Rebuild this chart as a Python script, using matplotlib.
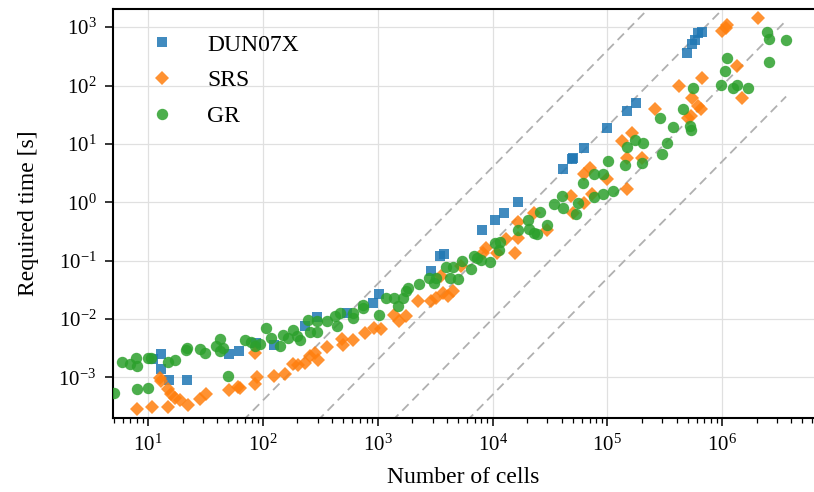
import numpy as np
import matplotlib
matplotlib.use("Agg")
import matplotlib.pyplot as plt
from matplotlib.ticker import LogLocator, NullLocator, NullFormatter

plt.rcParams['font.family'] = ['Liberation Serif', 'DejaVu Serif']
plt.rcParams['mathtext.fontset'] = 'custom'
plt.rcParams['mathtext.rm'] = 'Liberation Serif'
plt.rcParams['mathtext.it'] = 'Liberation Serif:italic'
plt.rcParams['mathtext.bf'] = 'Liberation Serif:bold'

# ---- data ----
dun_cells = [11.1, 13.0, 13.0, 15.2, 21.9, 50.8, 62, 87, 125, 232, 295, 540, 908, 1020,
             2900, 3470, 3800, 8050, 1.06e4, 1.27e4, 1.68e4, 4.07e4, 4.9e4, 5.0e4, 6.3e4,
             1.0e5, 1.49e5, 1.79e5, 4.97e5, 5.5e5, 5.8e5, 6.2e5, 6.7e5]
dun_time = [2.06e-3, 2.5e-3, 1.39e-3, 8.9e-4, 8.9e-4, 2.5e-3, 2.8e-3, 3.9e-3, 3.6e-3, 7.6e-3,
            1.08e-2, 1.27e-2, 1.88e-2, 2.7e-2, 6.7e-2, 0.122, 0.132, 0.33, 0.49, 0.65, 1.0,
            3.7, 5.5, 5.7, 8.4, 18.8, 36.8, 50.5, 368, 525, 615, 780, 811]

srs_cells = [8.0, 10.8, 12.7, 13.0, 14.9, 14.9, 15.9, 17.2, 19.0, 22.3, 28.4, 32, 50.8, 60.8,
             63.3, 85.5, 89, 85.5, 125, 156, 182, 202, 232, 257, 284, 301, 361, 488, 498, 608,
             774, 927, 1060, 1380, 1520, 1750, 2230, 2900, 3200, 3680, 4070, 4500, 3540, 5300,
             8700, 8200, 1.1e4, 1.3e4, 1.56e4, 1.68e4, 1.65e4, 2.28e4, 3.0e4, 4.8e4, 5.0e4,
             6.2e4, 7.4e4, 6.2e4, 7.1e4, 1.0e5, 1.49e5, 1.35e5, 1.65e5, 1.49e5, 2.02e5, 2.6e5,
             4.2e5, 6.7e5, 5.5e5, 6.1e5, 6.5e5, 5.0e5, 5.3e5, 1.0e6, 1.1e6, 1.07e6, 1.35e6,
             1.49e6, 2.06e6]
srs_time = [2.9e-4, 3.06e-4, 9.6e-4, 8.5e-4, 3.06e-4, 6.2e-4, 5.1e-4, 4.4e-4, 4.0e-4, 3.4e-4,
            4.2e-4, 5.1e-4, 6.0e-4, 6.7e-4, 6.5e-4, 7.6e-4, 1.0e-3, 2.6e-3, 1.04e-3, 1.12e-3,
            1.67e-3, 1.6e-3, 1.74e-3, 2.3e-3, 2.6e-3, 2.0e-3, 3.3e-3, 4.5e-3, 3.6e-3, 4.4e-3,
            5.75e-3, 7.0e-3, 6.7e-3, 1.17e-2, 9.1e-3, 1.12e-2, 2.04e-2, 2.04e-2, 2.3e-2, 2.8e-2,
            2.5e-2, 3.0e-2, 5.5e-2, 8.2e-2, 0.167, 0.137, 0.137, 0.23, 0.137, 0.24, 0.45, 0.65,
            0.33, 1.27, 0.65, 0.96, 1.37, 3.1, 3.8, 2.5, 1.67, 11.2, 15.4, 5.75, 5.75, 40,
            97, 137, 60, 45, 40, 28, 30.5, 853, 1080, 960, 212, 62, 1430]

gr_cells = [5.0, 5.9, 7.0, 7.9, 8.0, 8.0, 10, 10.5, 10, 15, 17.2, 21.4, 21.9, 28.4, 31.4, 39,
            42.4, 45, 42.4, 49.8, 70, 79, 85.5, 94.6, 107, 117, 141, 149, 165, 182, 198, 210,
            247, 257, 295, 295, 361, 424, 441, 469, 608, 608, 743, 750, 1020, 1170, 1380, 1490,
            1650, 1750, 1820, 2280, 2780, 3070, 3200, 3900, 4300, 4500, 5000, 5400, 6500, 6900,
            7300, 7900, 9500, 1.04e4, 1.13e4, 1.17e4, 1.65e4, 2.02e4, 2.06e4, 2.28e4, 2.42e4,
            2.57e4, 2.95e4, 3.4e4, 4.0e4, 4.07e4, 5.3e4, 5.5e4, 6.1e4, 7.6e4, 7.7e4, 9.1e4,
            9.1e4, 1.02e5, 1.13e5, 1.43e5, 1.49e5, 1.75e5, 2.06e5, 2.02e5, 3.0e5, 3.3e5, 2.9e5,
            3.76e5, 4.6e5, 5.2e5, 5.4e5, 5.6e5, 9.8e5, 1.06e6, 1.1e6, 1.25e6, 1.35e6, 1.68e6,
            2.47e6, 2.57e6, 3.6e6, 2.57e6]
gr_time = [5.3e-4, 1.8e-3, 1.7e-3, 2.1e-3, 1.56e-3, 6.2e-4, 2.1e-3, 2.1e-3, 6.5e-4, 1.8e-3,
           2.0e-3, 2.9e-3, 3.2e-3, 3.1e-3, 2.6e-3, 3.4e-3, 4.5e-3, 3.2e-3, 2.8e-3, 1.05e-3,
           4.4e-3, 4.0e-3, 3.4e-3, 3.7e-3, 7.0e-3, 4.7e-3, 3.4e-3, 5.3e-3, 4.7e-3, 6.5e-3,
           5.1e-3, 4.4e-3, 9.6e-3, 6.0e-3, 9.2e-3, 6.0e-3, 9.2e-3, 1.12e-2, 7.6e-3, 1.27e-2,
           1.04e-2, 1.27e-2, 1.54e-2, 1.7e-2, 1.17e-2, 2.3e-2, 2.3e-2, 1.67e-2, 2.3e-2, 3.0e-2,
           3.4e-2, 4.0e-2, 5.0e-2, 4.1e-2, 5.0e-2, 7.6e-2, 5.0e-2, 7.6e-2, 4.9e-2, 0.10,
           7.3e-2, 0.122, 0.112, 0.104, 0.093, 0.196, 0.149, 0.212, 0.34, 0.50, 0.35, 0.30,
           0.29, 0.67, 0.40, 0.92, 1.27, 0.79, 0.62, 0.98, 2.1, 3.1, 1.22, 3.0, 1.37, 5.0,
           1.55, 4.3, 8.9, 11.7, 10.4, 4.7, 6.7, 10.4, 27.9, 19.6, 39.8, 20.4, 17.4, 89, 104,
           174, 302, 92, 104, 92, 820, 620, 600, 251]

# reference lines: time = c * cells^2
ref_coeffs = [4e-8, 2e-9, 1e-10, 5e-12]
ref_exponent = 2

x_ticks = [1e1, 1e2, 1e3, 1e4, 1e5, 1e6]
y_ticks = [1e-3, 1e-2, 1e-1, 1e0, 1e1, 1e2, 1e3]

series_labels = ["DUN07X", "SRS", "GR"]
x_label = "Number of cells"
y_label = "Required time [s]"

# ---- plot ----
fig = plt.figure(figsize=(8.14, 4.92), dpi=100)
ax = fig.add_axes([113 / 814, 1 - 418 / 492, 1 - 113 / 814, (418 - 9) / 492])

all_x = np.concatenate([dun_cells, srs_cells, gr_cells])
xr = np.array([all_x.min(), all_x.max()])
for c in ref_coeffs:
    ax.plot(xr, c * xr ** ref_exponent, ls=(0, (5, 3)), color='#b0b0b0', lw=1.3, zorder=1)

ax.plot(dun_cells, dun_time, 's', ms=7.8, color='#1f77b4', alpha=0.85, mew=0, label=series_labels[0], zorder=3)
ax.plot(srs_cells, srs_time, 'D', ms=7.2, color='#ff7f0e', alpha=0.85, mew=0, label=series_labels[1], zorder=3)
ax.plot(gr_cells, gr_time, 'o', ms=8.2, color='#2ca02c', alpha=0.85, mew=0, label=series_labels[2], zorder=3)

ax.set_xscale('log')
ax.set_yscale('log')
ax.set_xlim(4.95, 6.3e6)
ax.set_ylim(2e-4, 2.05e3)
ax.set_xticks(x_ticks)
ax.set_yticks(y_ticks)
ax.yaxis.set_minor_locator(NullLocator())
ax.xaxis.set_minor_locator(LogLocator(base=10, subs=np.arange(2, 10), numticks=20))
ax.xaxis.set_minor_formatter(NullFormatter())

ax.grid(True, which='major', color='#e0e0e0', lw=0.9)
ax.set_axisbelow(True)
for s in ['left', 'bottom', 'top']:
    ax.spines[s].set_linewidth(1.5)
    ax.spines[s].set_color('black')
ax.spines['right'].set_visible(False)
ax.tick_params(which='major', direction='out', length=6, width=1.1, labelsize=15, pad=6)
ax.tick_params(which='minor', direction='out', length=3.5, width=0.9)
ax.tick_params(top=False, right=False, which='both')

ax.set_xlabel(x_label, fontsize=17, labelpad=8)
ax.set_ylabel(y_label, fontsize=17, labelpad=14)

ax.legend(loc='upper left', bbox_to_anchor=(0.03, 0.962), frameon=False, fontsize=17,
          handlelength=1.6, handletextpad=1.1, labelspacing=0.6, borderaxespad=0, borderpad=0.4)

fig.savefig('out.png', dpi=100)
